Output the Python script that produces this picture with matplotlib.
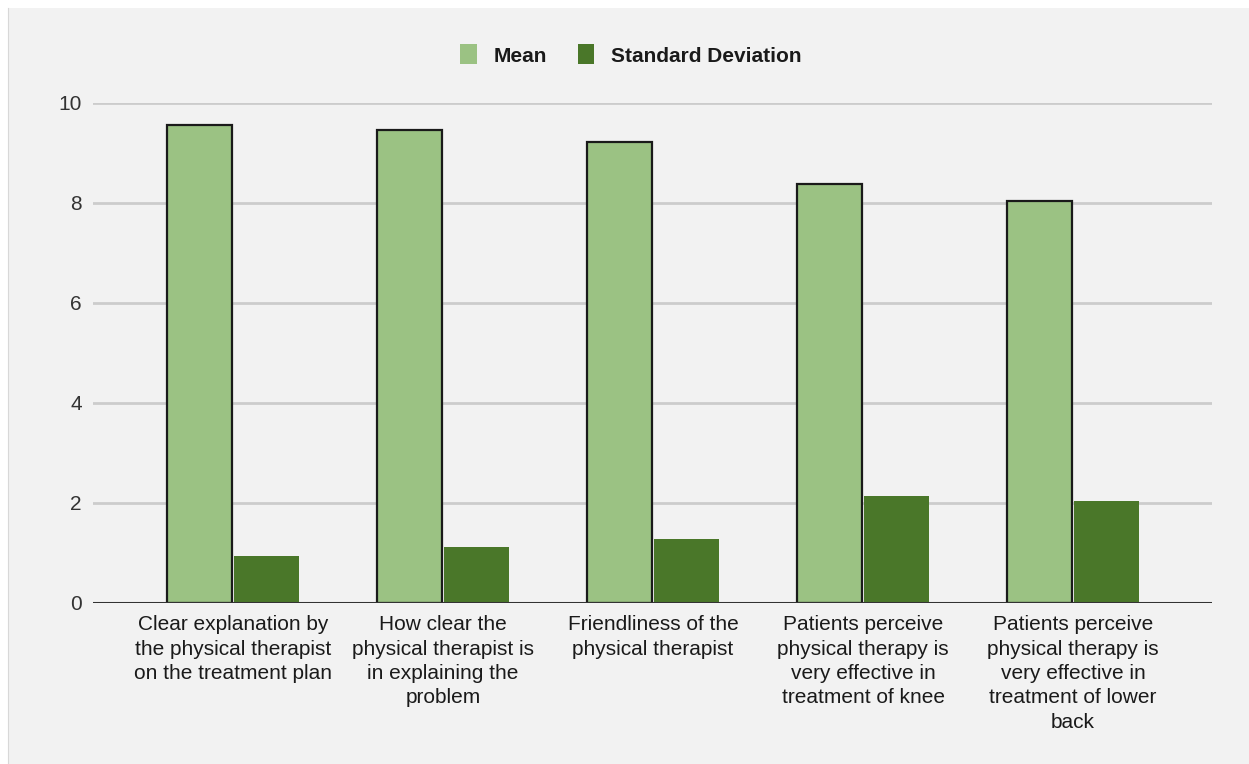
import numpy as np
import matplotlib.pyplot as plt
from matplotlib.patches import Patch, Rectangle

plt.rcParams.update({
    "font.family": ["Liberation Sans", "DejaVu Sans"],
    "font.size": 15,
})

categories = [
    "Clear explanation by\nthe physical therapist\non the treatment plan",
    "How clear the\nphysical therapist is\nin explaining the\nproblem",
    "Friendliness of the\nphysical therapist",
    "Patients perceive\nphysical therapy is\nvery effective in\ntreatment of knee",
    "Patients perceive\nphysical therapy is\nvery effective in\ntreatment of lower\nback",
]
mean_vals = [9.56, 9.46, 9.22, 8.38, 8.04]
sd_vals = [0.94, 1.12, 1.28, 2.14, 2.04]

light_green = "#9bc283"
dark_green = "#4a7729"
bg = "#f2f2f2"

fig = plt.figure(figsize=(12.49, 7.64), dpi=100, facecolor="white")
# grey chart area with a thin white border at top/left (screenshot look)
fig.patches.append(Rectangle((8 / 1249, -0.01), 1, 1.01 - 8 / 764, transform=fig.transFigure,
                             facecolor=bg, edgecolor="none", zorder=-10))
fig.lines.append(plt.Line2D([8 / 1249, 8 / 1249], [0, 1 - 8 / 764], transform=fig.transFigure,
                            color="#d8d8d8", linewidth=0.8))

ax = fig.add_axes([93 / 1249, 1 - 603 / 764, (1212 - 93) / 1249, 500 / 764])
ax.set_facecolor(bg)

x = np.arange(len(categories))
w = 0.31
ax.bar(x - w / 2 - 0.005, mean_vals, w, color=light_green, edgecolor="#1a1a1a",
       linewidth=1.6, zorder=3)
ax.bar(x + w / 2 + 0.005, sd_vals, w, color=dark_green, linewidth=0, zorder=3)

ax.set_xlim(-0.667, 4.662)
ax.set_ylim(0, 10)
ax.set_yticks([0, 2, 4, 6, 8, 10])
ax.yaxis.grid(True, color="#cccccc", linewidth=2)
ax.set_axisbelow(True)
ax.axhline(0, color="#333333", linewidth=2.2, zorder=4)
for s in ax.spines.values():
    s.set_visible(False)
ax.tick_params(axis="y", length=0, pad=8, colors="#333333", labelsize=15)
ax.set_xticks(x)
ax.set_xticklabels(categories, linespacing=1.35)
ax.tick_params(axis="x", length=0, pad=9, colors="#1a1a1a", labelsize=15)

handles = [Patch(facecolor=light_green, label="Mean"),
           Patch(facecolor=dark_green, label="Standard Deviation")]
leg = fig.legend(handles=handles, loc="center", bbox_to_anchor=(0.505, 1 - 55 / 764),
                 ncol=2, frameon=False, handlelength=0.8, handleheight=1.1,
                 columnspacing=1.5, handletextpad=0.8, fontsize=15)
for t in leg.get_texts():
    t.set_fontweight("bold")
    t.set_color("#1a1a1a")

fig.savefig("out.png", dpi=100, facecolor=fig.get_facecolor())
